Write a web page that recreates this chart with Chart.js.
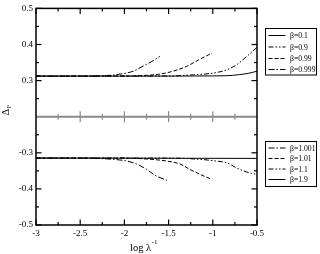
<!DOCTYPE html>
<html>
<head>
<meta charset="utf-8">
<script src="https://cdn.jsdelivr.net/npm/chart.js@4"></script>
<style>
    html, body { margin: 0; padding: 0; background: #fff; }
    #caixa { width: 320px; height: 254px; position: relative; }
</style>
</head>
<body>
<div id="caixa"><canvas id="grafico"></canvas></div>
<script>
// ==================== DADOS ====================

// eixo x: log λ^-1 (rótulos) e eixo y: Δ_F (eixo quebrado entre 0.2 e -0.2)
const rotulosX = [-3, -2.5, -2, -1.5, -1, -0.5];
const rotulosY = [0.5, 0.4, 0.3, -0.3, -0.4, -0.5];

// painel de cima (β < 1)
const xBeta01 = [-3, -1.5, -1.0, -0.85, -0.7, -0.6, -0.5];
const yBeta01 = [0.3125, 0.3125, 0.313, 0.3135, 0.3165, 0.320, 0.326];

const xBeta09 = [-3, -1.5, -1.22, -0.99, -0.84, -0.73, -0.62, -0.5];
const yBeta09 = [0.3125, 0.3128, 0.316, 0.321, 0.330, 0.344, 0.366, 0.392];

const xBeta099 = [-3, -2.0, -1.8, -1.6, -1.45, -1.3, -1.14, -1.01];
const yBeta099 = [0.3125, 0.3127, 0.314, 0.318, 0.326, 0.339, 0.360, 0.376];

const xBeta0999 = [-3, -2.5, -2.2, -2.05, -1.9, -1.79, -1.69, -1.6];
const yBeta0999 = [0.3125, 0.3127, 0.314, 0.318, 0.326, 0.340, 0.353, 0.367];

// painel de baixo (β > 1)
const xBeta1001 = [-3, -2.5, -2.13, -1.97, -1.86, -1.75, -1.64, -1.52];
const yBeta1001 = [-0.3145, -0.3147, -0.318, -0.323, -0.331, -0.346, -0.364, -0.376];

const xBeta101 = [-3, -2.0, -1.7, -1.52, -1.37, -1.26, -1.14, -1.01];
const yBeta101 = [-0.3145, -0.3147, -0.318, -0.323, -0.331, -0.346, -0.360, -0.374];

const xBeta11 = [-3, -1.5, -1.15, -0.99, -0.84, -0.73, -0.62, -0.52];
const yBeta11 = [-0.3145, -0.3147, -0.318, -0.322, -0.328, -0.342, -0.353, -0.359];

const xBeta19 = [-3, -0.5];
const yBeta19 = [-0.3145, -0.3155];

// ==================== ESTILOS ====================

const FONTE = "'Liberation Serif', 'DejaVu Serif', serif";
const solido = [];
const tracejado = [4, 2];
const tracoPonto = [6, 2, 1.5, 2];
const tracoPontoPonto = [5, 2, 1.5, 2, 1.5, 2];

// ==================== FUNÇÕES AUXILIARES ====================

// o eixo y pula o intervalo (-0.2, 0.2)
function quebra(v) {
    return v > 0 ? v - 0.2 : v + 0.2;
}

function desquebra(v) {
    if (Math.abs(v) < 1e-9) return 0;
    return v > 0 ? v + 0.2 : v - 0.2;
}

function ehMultiplo(v, passo) {
    const r = v / passo;
    return Math.abs(r - Math.round(r)) < 1e-6;
}

function pontos(xs, ys) {
    return xs.map((v, i) => ({ x: v, y: quebra(ys[i]) }));
}

function serie(rotulo, xs, ys, traco, painel) {
    return {
        label: rotulo,
        data: pontos(xs, ys),
        borderColor: '#000',
        borderWidth: 1,
        borderDash: traco,
        pointRadius: 0,
        fill: false,
        cubicInterpolationMode: 'monotone',
        painel: painel
    };
}

const series = [
    serie('β=0.1', xBeta01, yBeta01, solido, 'cima'),
    serie('β=0.9', xBeta09, yBeta09, tracoPontoPonto, 'cima'),
    serie('β=0.99', xBeta099, yBeta099, tracejado, 'cima'),
    serie('β=0.999', xBeta0999, yBeta0999, tracoPonto, 'cima'),
    serie('β=1.001', xBeta1001, yBeta1001, tracoPonto, 'baixo'),
    serie('β=1.01', xBeta101, yBeta101, tracejado, 'baixo'),
    serie('β=1.1', xBeta11, yBeta11, tracoPontoPonto, 'baixo'),
    serie('β=1.9', xBeta19, yBeta19, solido, 'baixo')
];

function linha(ctx, x1, y1, x2, y2) {
    ctx.beginPath();
    ctx.moveTo(x1, y1);
    ctx.lineTo(x2, y2);
    ctx.stroke();
}

function desenharLegenda(ctx, itens, caixa, linhasY) {
    ctx.save();
    ctx.strokeStyle = '#000';
    ctx.lineWidth = 1;
    ctx.fillStyle = '#fff';
    ctx.fillRect(caixa.x, caixa.y, caixa.w, caixa.h);
    ctx.strokeRect(caixa.x, caixa.y, caixa.w, caixa.h);
    ctx.font = '7.7px ' + FONTE;
    ctx.textBaseline = 'middle';
    ctx.textAlign = 'left';
    itens.forEach((item, i) => {
        const yy = linhasY[i];
        ctx.setLineDash(item.borderDash);
        linha(ctx, caixa.x + 3, yy, caixa.x + 20, yy);
        ctx.setLineDash([]);
        ctx.fillStyle = '#000';
        ctx.fillText(item.label, caixa.x + 24.5, yy + 0.5);
    });
    ctx.restore();
}

// ==================== MOLDURA, TICKS E LEGENDAS ====================

const moldura = {
    id: 'moldura',
    afterDraw(chart) {
        const { ctx, chartArea: a, scales: { x, y } } = chart;
        ctx.save();

        // linha cinza da quebra do eixo
        const y0 = y.getPixelForValue(0);
        ctx.strokeStyle = '#8a8a8a';
        ctx.lineWidth = 2;
        linha(ctx, a.left, y0, a.right, y0);
        ctx.lineWidth = 1.2;
        x.ticks.forEach(t => {
            const px = x.getPixelForValue(t.value);
            if (px <= a.left + 1 || px >= a.right - 1) return;
            const l = ehMultiplo(t.value, 0.5) ? 5.5 : 3;
            linha(ctx, px, y0 - l, px, y0 + l);
        });

        // moldura preta
        ctx.strokeStyle = '#000';
        ctx.lineWidth = 1.5;
        ctx.strokeRect(a.left, a.top, a.right - a.left, a.bottom - a.top);

        ctx.lineWidth = 1.2;
        x.ticks.forEach(t => {
            const px = x.getPixelForValue(t.value);
            const l = ehMultiplo(t.value, 0.5) ? 5.5 : 3;
            linha(ctx, px, a.top, px, a.top + l);
            linha(ctx, px, a.bottom, px, a.bottom - l);
        });
        y.ticks.forEach(t => {
            if (Math.abs(t.value) < 1e-9) return;
            const py = y.getPixelForValue(t.value);
            const l = ehMultiplo(t.value, 0.1) ? 5.5 : 3;
            linha(ctx, a.left, py, a.left + l, py);
            linha(ctx, a.right, py, a.right - l, py);
        });

        // títulos dos eixos
        ctx.fillStyle = '#000';
        ctx.textBaseline = 'alphabetic';
        ctx.textAlign = 'left';
        ctx.font = '10.5px ' + FONTE;
        const base = 'log λ';
        const xt = 130;
        ctx.fillText(base, xt, 251);
        const wb = ctx.measureText(base).width;
        ctx.font = '7px ' + FONTE;
        ctx.fillText('-1', xt + wb + 0.5, 244);

        ctx.save();
        ctx.translate(8.8, 115.5);
        ctx.rotate(-Math.PI / 2);
        ctx.font = '10.5px ' + FONTE;
        ctx.fillText('Δ', 0, 0);
        const wd = ctx.measureText('Δ').width;
        ctx.font = '6.5px ' + FONTE;
        ctx.fillText('F', wd + 0.3, 2.2);
        ctx.restore();

        ctx.restore();

        // legendas
        const dsets = chart.data.datasets;
        desenharLegenda(ctx, dsets.filter(d => d.painel === 'cima'),
            { x: 265.5, y: 28.5, w: 51, h: 46.5 }, [35.5, 47, 58.5, 69.5]);
        desenharLegenda(ctx, dsets.filter(d => d.painel === 'baixo'),
            { x: 265.5, y: 141.5, w: 51, h: 45 }, [148, 158.5, 169, 179.5]);
    }
};

// ==================== GRÁFICO ====================

const grafico = new Chart(document.getElementById('grafico'), {
    type: 'line',
    data: { datasets: series },
    options: {
        responsive: true,
        maintainAspectRatio: false,
        animation: false,
        layout: { padding: { top: 5, right: 63, left: 0, bottom: 0 } },
        plugins: {
            legend: { display: false },
            tooltip: { enabled: false }
        },
        scales: {
            x: {
                type: 'linear',
                min: rotulosX[0],
                max: rotulosX[rotulosX.length - 1],
                grid: { display: false, drawTicks: false },
                border: { display: false },
                ticks: {
                    stepSize: 0.25,
                    autoSkip: false,
                    maxRotation: 0,
                    padding: 3,
                    color: '#000',
                    font: { family: FONTE, size: 9 },
                    callback: v => {
                        const r = Math.round(v * 100) / 100;
                        return rotulosX.includes(r) ? String(r) : '';
                    }
                },
                afterFit: s => { s.height = 29; }
            },
            y: {
                type: 'linear',
                min: quebra(rotulosY[rotulosY.length - 1]),
                max: quebra(rotulosY[0]),
                grid: { display: false, drawTicks: false },
                border: { display: false },
                ticks: {
                    stepSize: 0.05,
                    autoSkip: false,
                    padding: 3,
                    color: '#000',
                    font: { family: FONTE, size: 9 },
                    callback: v => {
                        const o = Math.round(desquebra(v) * 100) / 100;
                        return rotulosY.includes(o) ? o.toFixed(1) : '';
                    }
                },
                afterFit: s => { s.width = 36; }
            }
        }
    },
    plugins: [moldura]
});
</script>
</body>
</html>
